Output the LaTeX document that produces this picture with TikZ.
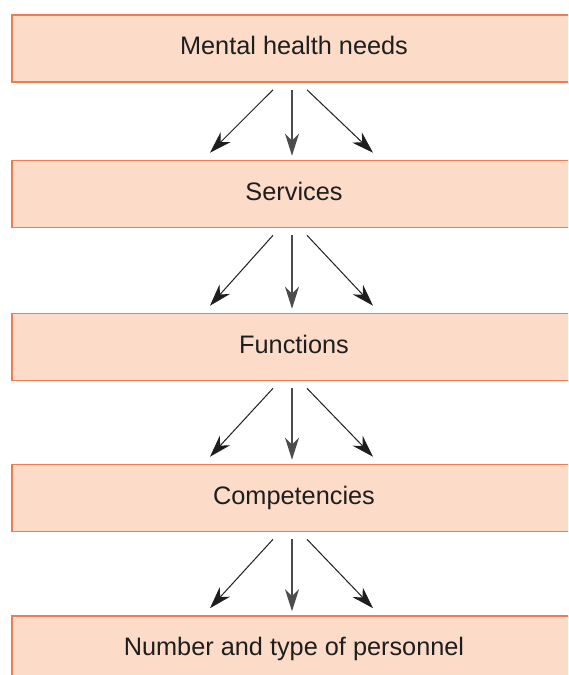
\documentclass[tikz,border=0pt]{standalone}
\usepackage{fontspec}
\setmainfont{Liberation Sans}
\usepackage{tikz}
\usetikzlibrary{arrows.meta,positioning}
\usepackage{xcolor}
\definecolor{lvlfill}{RGB}{252,220,200}
\definecolor{lvlline}{RGB}{241,124,82}
\definecolor{arrdark}{RGB}{30,30,30}
\tikzstyle{level} = [rectangle, minimum width=564pt, minimum height=67pt, text height=17.5pt, text depth=5pt, inner sep=0pt, draw=lvlline, fill=lvlfill, line width=1.6pt, font=\fontsize{25.3}{30}\selectfont, text=arrdark]
\tikzstyle{arrow} = [line width=1pt, -{Stealth[length=22pt,width=14pt,inset=7pt]}, color=arrdark]

\begin{document}
\begin{tikzpicture}[x=1pt,y=1pt]
\useasboundingbox (0,0) rectangle (568,-675);
\clip (0,0) rectangle (568,-675);
% Levels as nodes
\node (needs) [level] at (294,-48.5) {Mental health needs};
\node (services) [level, below of=needs, node distance=145.5pt] {Services};
\node (functions) [level, below of=services, node distance=153pt] {Functions};
\node (competencies) [level, below of=functions, node distance=151pt] {Competencies};
\node (personnel) [level, below of=competencies, node distance=151.5pt] {Number and type of personnel};

% Arrows
\draw[arrow] ([xshift=-21pt,yshift=-7pt]needs.south) -- ([xshift=-84pt,yshift=7pt]services.north);
\draw[arrow, color=black!70, line width=1.3pt] ([xshift=-2pt,yshift=-7pt]needs.south) -- ([xshift=-2pt,yshift=4pt]services.north);
\draw[arrow] ([xshift=13pt,yshift=-7pt]needs.south) -- ([xshift=79pt,yshift=7pt]services.north);

\draw[arrow] ([xshift=-21pt,yshift=-7pt]services.south) -- ([xshift=-84pt,yshift=7pt]functions.north);
\draw[arrow, color=black!70, line width=1.3pt] ([xshift=-2pt,yshift=-7pt]services.south) -- ([xshift=-2pt,yshift=4pt]functions.north);
\draw[arrow] ([xshift=13pt,yshift=-7pt]services.south) -- ([xshift=79pt,yshift=7pt]functions.north);

\draw[arrow] ([xshift=-21pt,yshift=-7pt]functions.south) -- ([xshift=-84pt,yshift=7pt]competencies.north);
\draw[arrow, color=black!70, line width=1.3pt] ([xshift=-2pt,yshift=-7pt]functions.south) -- ([xshift=-2pt,yshift=4pt]competencies.north);
\draw[arrow] ([xshift=13pt,yshift=-7pt]functions.south) -- ([xshift=79pt,yshift=7pt]competencies.north);

\draw[arrow] ([xshift=-21pt,yshift=-7pt]competencies.south) -- ([xshift=-84pt,yshift=7pt]personnel.north);
\draw[arrow, color=black!70, line width=1.3pt] ([xshift=-2pt,yshift=-7pt]competencies.south) -- ([xshift=-2pt,yshift=4pt]personnel.north);
\draw[arrow] ([xshift=13pt,yshift=-7pt]competencies.south) -- ([xshift=79pt,yshift=7pt]personnel.north);
\end{tikzpicture}
\end{document}
